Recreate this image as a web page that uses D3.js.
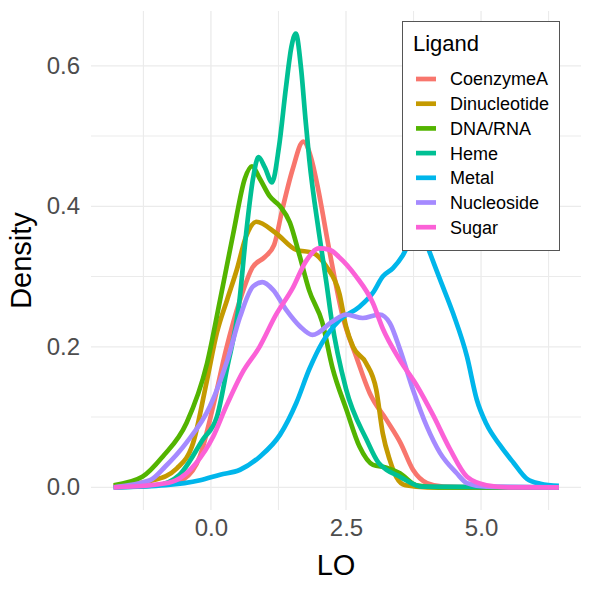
<!DOCTYPE html>
<html><head><meta charset="utf-8">
<script src="https://cdn.jsdelivr.net/npm/d3@7"></script>
<style>
body{margin:0;background:#fff;}
svg{display:block;font-family:"Liberation Sans",Arial,Helvetica,sans-serif;}
</style></head>
<body>
<svg id="chart" width="590" height="590"></svg>
<script>
const ligands = ["CoenzymeA","Dinucleotide","DNA/RNA","Heme","Metal","Nucleoside","Sugar"];
const colors = ["#F8766D","#C49A00","#53B400","#00C094","#00B6EB","#A58AFF","#FB61D7"];
const xTicks = [0, 2.5, 5];
const xMinor = [-1.25, 1.25, 3.75, 6.25];
const yTicks = [0, 0.2, 0.4, 0.6];
const yMinor = [0.1, 0.3, 0.5];

const coenzymeA = [[-1.8,0.001],[-1.2,0.002],[-0.8,0.005],[-0.5,0.012],[-0.2,0.045],[0.04,0.115],[0.28,0.196],[0.54,0.267],[0.77,0.313],[1.0,0.328],[1.17,0.345],[1.32,0.395],[1.51,0.452],[1.71,0.492],[1.85,0.47],[1.97,0.43],[2.19,0.338],[2.44,0.243],[2.69,0.186],[2.94,0.134],[3.25,0.096],[3.51,0.063],[3.74,0.025],[4.0,0.006],[4.3,0.001],[5.0,0],[6.44,0]];
const dinucleotide = [[-1.8,0.002],[-1.07,0.01],[-0.63,0.027],[-0.33,0.063],[-0.08,0.15],[0.11,0.22],[0.3,0.267],[0.48,0.31],[0.65,0.357],[0.84,0.378],[1.2,0.362],[1.58,0.338],[1.88,0.334],[2.14,0.314],[2.38,0.275],[2.5,0.229],[2.63,0.2],[2.87,0.177],[3.06,0.139],[3.18,0.077],[3.31,0.039],[3.43,0.015],[3.6,0.003],[4.0,0],[6.44,0]];
const dnaRna = [[-1.8,0.003],[-1.27,0.015],[-0.89,0.044],[-0.45,0.092],[-0.07,0.177],[0.17,0.267],[0.41,0.36],[0.63,0.44],[0.76,0.457],[0.9,0.44],[1.09,0.414],[1.28,0.4],[1.46,0.377],[1.64,0.33],[1.82,0.28],[2.06,0.235],[2.25,0.17],[2.51,0.11],[2.75,0.058],[3.0,0.032],[3.25,0.028],[3.5,0.02],[3.8,0.003],[4.2,0],[6.44,0]];
const heme = [[-1.8,0],[-1.0,0.003],[-0.58,0.018],[-0.15,0.068],[0.11,0.1],[0.3,0.17],[0.52,0.26],[0.65,0.36],[0.78,0.44],[0.88,0.47],[1.0,0.455],[1.13,0.434],[1.26,0.485],[1.39,0.57],[1.49,0.627],[1.57,0.646],[1.67,0.595],[1.75,0.524],[1.82,0.467],[2.0,0.362],[2.14,0.29],[2.23,0.24],[2.5,0.14],[2.88,0.068],[3.1,0.035],[3.25,0.025],[3.5,0.015],[3.9,0.001],[6.44,0]];
const metal = [[-1.8,0],[-0.84,0.003],[-0.2,0.01],[0.17,0.018],[0.54,0.025],[0.91,0.044],[1.28,0.075],[1.58,0.12],[1.82,0.168],[2.06,0.206],[2.38,0.238],[2.75,0.257],[3.0,0.277],[3.18,0.3],[3.37,0.312],[3.55,0.33],[3.75,0.36],[3.88,0.372],[4.0,0.345],[4.24,0.296],[4.48,0.248],[4.74,0.186],[4.92,0.125],[5.1,0.09],[5.35,0.06],[5.6,0.035],[5.85,0.012],[6.1,0.005],[6.44,0.002]];
const nucleoside = [[-1.8,0],[-1.13,0.01],[-0.84,0.03],[-0.46,0.063],[-0.02,0.115],[0.3,0.18],[0.54,0.243],[0.78,0.286],[0.95,0.292],[1.15,0.281],[1.39,0.253],[1.65,0.229],[1.88,0.217],[2.25,0.236],[2.5,0.246],[2.81,0.241],[3.12,0.246],[3.31,0.234],[3.5,0.196],[3.74,0.139],[4.0,0.086],[4.24,0.049],[4.55,0.02],[4.74,0.006],[5.1,0.001],[6.44,0]];
const sugar = [[-1.8,0],[-1.0,0.004],[-0.65,0.01],[-0.28,0.034],[0.04,0.072],[0.28,0.115],[0.58,0.163],[0.9,0.2],[1.2,0.245],[1.51,0.283],[1.76,0.322],[2.0,0.34],[2.2,0.338],[2.37,0.328],[2.69,0.3],[3.0,0.262],[3.18,0.226],[3.49,0.182],[3.81,0.145],[4.11,0.103],[4.42,0.055],[4.74,0.015],[5.1,0.003],[5.5,0],[6.44,0]];

const seriesData = [coenzymeA, dinucleotide, dnaRna, heme, metal, nucleoside, sugar];

const svg = d3.select("#chart");
const P = {l:91, r:581, t:11, b:510};
const x = d3.scaleLinear().domain([-2.22, 6.85]).range([P.l, P.r]);
const y = d3.scaleLinear().domain([-0.0323, 0.678]).range([P.b, P.t]);

const grid = svg.append("g");
grid.selectAll(".vminor").data(xMinor).enter().append("line")
  .attr("x1", d=>x(d)).attr("x2", d=>x(d)).attr("y1", P.t).attr("y2", P.b)
  .attr("stroke", "#EBEBEB").attr("stroke-width", 1.1);
grid.selectAll(".hminor").data(yMinor).enter().append("line")
  .attr("y1", d=>y(d)).attr("y2", d=>y(d)).attr("x1", P.l).attr("x2", P.r)
  .attr("stroke", "#EBEBEB").attr("stroke-width", 1.1);
grid.selectAll(".vmajor").data(xTicks).enter().append("line")
  .attr("x1", d=>x(d)).attr("x2", d=>x(d)).attr("y1", P.t).attr("y2", P.b)
  .attr("stroke", "#EBEBEB").attr("stroke-width", 1.3);
grid.selectAll(".hmajor").data(yTicks).enter().append("line")
  .attr("y1", d=>y(d)).attr("y2", d=>y(d)).attr("x1", P.l).attr("x2", P.r)
  .attr("stroke", "#EBEBEB").attr("stroke-width", 1.3);

const xAxis = svg.append("g").attr("transform", `translate(0,${P.b})`)
  .call(d3.axisBottom(x).tickValues(xTicks).tickFormat(d3.format(".1f")).tickSize(0).tickPadding(9));
const yAxis = svg.append("g").attr("transform", `translate(${P.l},0)`)
  .call(d3.axisLeft(y).tickValues(yTicks).tickFormat(d3.format(".1f")).tickSize(0).tickPadding(11));
[xAxis, yAxis].forEach(a => {
  a.select(".domain").remove();
  a.selectAll("text").attr("fill", "#4D4D4D").style("font-size", "24px")
    .style("font-family", '"Liberation Sans",Arial,Helvetica,sans-serif');
});

const line = d3.line().x(d=>x(d[0])).y(d=>y(d[1])).curve(d3.curveMonotoneX);
svg.append("g").selectAll("path").data(seriesData).enter().append("path")
  .attr("d", line).attr("fill", "none")
  .attr("stroke", (d,i)=>colors[i]).attr("stroke-width", 4.7)
  .attr("stroke-linejoin", "round").attr("stroke-linecap", "butt");

svg.append("text").attr("x", (P.l+P.r)/2).attr("y", 575).attr("text-anchor", "middle")
  .style("font-size", "29px").attr("fill", "#000").text("LO");
svg.append("text").attr("transform", `translate(31,${(P.t+P.b)/2}) rotate(-90)`)
  .attr("text-anchor", "middle").style("font-size", "29px").attr("fill", "#000").text("Density");

const lg = svg.append("g");
lg.append("rect").attr("x", 402.5).attr("y", 21.5).attr("width", 157).attr("height", 229)
  .attr("fill", "#fff").attr("stroke", "#555").attr("stroke-width", 1);
lg.append("text").attr("x", 413).attr("y", 51).style("font-size", "22px").attr("fill", "#000").text("Ligand");
const rows = lg.selectAll(".row").data(ligands).enter().append("g")
  .attr("transform", (d,i)=>`translate(0,${79 + i*24.7})`);
rows.append("line").attr("x1", 416).attr("x2", 436).attr("y1", 0).attr("y2", 0)
  .attr("stroke", (d,i)=>colors[i]).attr("stroke-width", 4.7);
rows.append("text").attr("x", 450).attr("y", 0).attr("dy", "0.36em")
  .style("font-size", "18px").attr("fill", "#000").text(d=>d);
</script>
</body></html>
